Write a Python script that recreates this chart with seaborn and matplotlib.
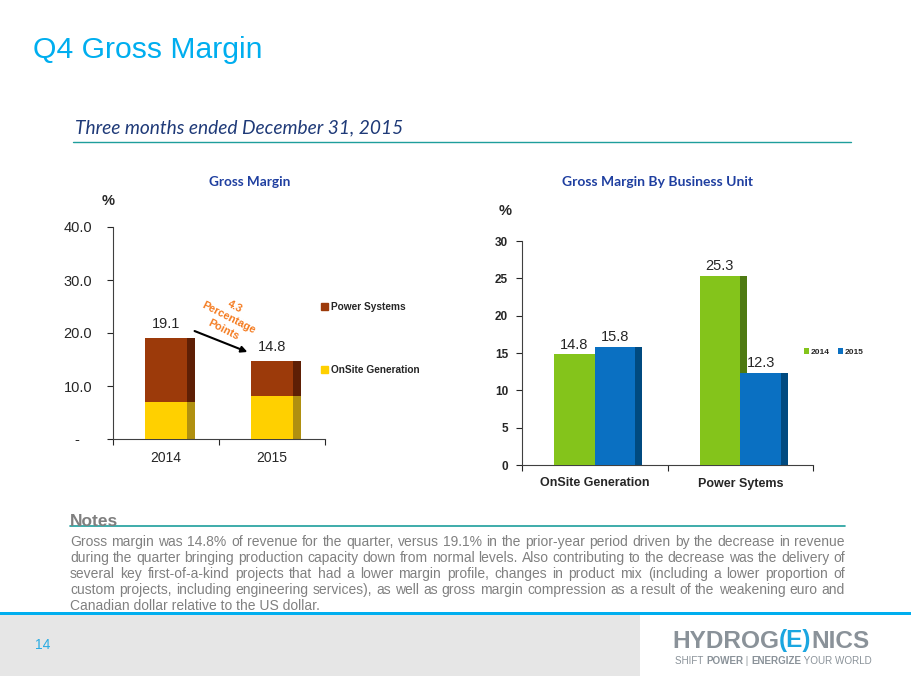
import matplotlib
matplotlib.use('Agg')
import matplotlib.pyplot as plt
from matplotlib.patches import Rectangle, Patch
from matplotlib.lines import Line2D
import seaborn as sns
import pandas as pd

# data
years = ['2014', '2015']
onsite_margin = [7.0, 8.2]
total_margin = [19.1, 14.8]   # onsite + power systems, stacked
left_yticks = [0, 10, 20, 30, 40]
left_ylabels = ['-   ', '10.0', '20.0', '30.0', '40.0']

units = ['OnSite Generation', 'Power Sytems']
unit_2014 = [14.8, 25.3]
unit_2015 = [15.8, 12.3]
right_yticks = [0, 5, 10, 15, 20, 25, 30]

notes_lines = [
    "Gross margin was 14.8% of revenue for the quarter, versus 19.1% in the prior-year period driven by the decrease in revenue",
    "during the quarter bringing production capacity down from normal levels. Also contributing to the decrease was the delivery of",
    "several key first-of-a-kind projects that had a lower margin profile, changes in product mix (including a lower proportion of",
    "custom projects, including engineering services), as well as gross margin compression as a result of the weakening euro and",
    "Canadian dollar relative to the US dollar.",
]

sns.set_style('white')
plt.rcParams['font.family'] = ['Liberation Sans', 'DejaVu Sans']

W, H = 911, 676
fig = plt.figure(figsize=(W / 100, H / 100), dpi=100)
fig.patch.set_facecolor('white')
renderer = fig.canvas.get_renderer()


def box(x0, y0, x1, y1):
    return [x0 / W, 1 - y1 / H, (x1 - x0) / W, (y1 - y0) / H]


def ftext(x, y, s, **kw):
    return fig.text(x / W, 1 - y / H, s, **kw)


def width_of(t):
    return t.get_window_extent(renderer).width


def hline(x0, x1, y, color, lw):
    fig.add_artist(Line2D([x0 / W, x1 / W], [1 - y / H, 1 - y / H], color=color, lw=lw,
                          transform=fig.transFigure))


def add_sides(ax, container, depth, color, z):
    # fake 3D side face on the right of each bar
    for p in container:
        ax.add_patch(Rectangle((p.get_x() + p.get_width(), 0), depth, p.get_height(),
                               color=color, lw=0, zorder=z))


# ---- header
ftext(33, 50, 'Q4 Gross Margin', fontsize=21.7, color='#00AEEF', va='center')
ftext(75, 128, 'Three months ended December 31, 2015', fontsize=13.8, family=['Lato', 'DejaVu Sans'],
      style='italic', color='#1F3A78', va='center')
hline(73, 851, 142, '#1E9E9C', 1.0)

# ---- left chart: stacked gross margin
ax1 = fig.add_axes(box(113, 227, 325, 439))
df1 = pd.DataFrame({'year': years, 'total': total_margin, 'onsite': onsite_margin})
sns.barplot(data=df1, x='year', y='total', color='#9C3A0A', width=0.40, saturation=1,
            linewidth=0, ax=ax1, zorder=3)
sns.barplot(data=df1, x='year', y='onsite', color='#FFD000', width=0.40, saturation=1,
            linewidth=0, ax=ax1, zorder=4)
add_sides(ax1, ax1.containers[0], 0.075, '#5E1F05', 2)
add_sides(ax1, ax1.containers[1], 0.075, '#B09010', 2.5)
ax1.bar_label(ax1.containers[0], labels=[f'{v:.1f}' for v in total_margin], padding=5, fontsize=10.5)
ax1.set_xlim(-0.5, 1.5)
ax1.set_ylim(0, 40)
ax1.set_yticks(left_yticks, left_ylabels)
ax1.set_xticks([-0.5, 0.5, 1.5], minor=True)
ax1.set_xlabel('')
ax1.set_ylabel('')
ax1.tick_params(axis='y', left=True, length=4, width=0.8, labelsize=10.5, pad=11)
ax1.tick_params(axis='x', which='major', length=0, labelsize=10, pad=9)
ax1.tick_params(axis='x', which='minor', bottom=True, length=4, width=0.8)
for s in ['top', 'right']:
    ax1.spines[s].set_visible(False)
for s in ['left', 'bottom']:
    ax1.spines[s].set_color('#404040')
    ax1.spines[s].set_linewidth(0.8)
ax1.legend(handles=[Patch(color='#9C3A0A'), Patch(color='#FFD000')],
           labels=['Power Systems', 'OnSite Generation'], loc='center left',
           bbox_to_anchor=(321 / W, 1 - 338.5 / H), bbox_transform=fig.transFigure,
           frameon=False, prop={'size': 7.3, 'weight': 'bold'}, handlelength=0.7,
           handleheight=0.7, handletextpad=0.25, labelspacing=5.2, borderpad=0, borderaxespad=0)
# drop annotation: arrow from the 2014 label toward the 2015 bar
ax1.annotate('', xy=(250, H - 353), xycoords='figure pixels', xytext=(192, H - 330),
             textcoords='figure pixels',
             arrowprops=dict(arrowstyle='-|>', color='black', lw=1.5, mutation_scale=9))
ftext(229, 318, '4.3\nPercentage\nPoints', rotation=-27, ha='center', va='center',
      color='#F47B20', fontsize=7.8, fontweight='bold', linespacing=1.35)
ftext(250, 182, 'Gross Margin', ha='center', va='center', fontsize=9.8, fontweight='bold',
      family=['Lato', 'DejaVu Sans'], color='#1F3FA0')
ftext(108, 201, '%', ha='center', va='center', fontsize=10.5, fontweight='bold')

# ---- right chart: by business unit
ax2 = fig.add_axes(box(522, 241, 813, 465))
df2 = pd.DataFrame({'unit': units * 2, 'year': ['2014'] * 2 + ['2015'] * 2,
                    'value': unit_2014 + unit_2015})
sns.barplot(data=df2, x='unit', y='value', hue='year', palette=['#84C41B', '#0A70C2'],
            width=0.56, saturation=1, linewidth=0, ax=ax2, zorder=3)
add_sides(ax2, ax2.containers[0], 0.048, '#4E7A12', 2)
add_sides(ax2, ax2.containers[1], 0.048, '#004A80', 2)
for c in ax2.containers:
    ax2.bar_label(c, fmt='%.1f', padding=2, fontsize=10.5)
ax2.set_xlim(-0.5, 1.5)
ax2.set_ylim(0, 30)
ax2.set_yticks(right_yticks)
ax2.set_xticks([-0.5, 0.5, 1.5], minor=True)
ax2.set_xlabel('')
ax2.set_ylabel('')
ax2.tick_params(axis='y', left=True, length=4, width=0.8, labelsize=8.5, pad=6)
ax2.tick_params(axis='x', which='major', length=0, labelsize=9, pad=9)
ax2.tick_params(axis='x', which='minor', bottom=True, length=4, width=0.8)
for lab in ax2.get_xticklabels() + ax2.get_yticklabels():
    lab.set_fontweight('bold')
for s in ['top', 'right']:
    ax2.spines[s].set_visible(False)
for s in ['left', 'bottom']:
    ax2.spines[s].set_color('#404040')
    ax2.spines[s].set_linewidth(0.8)
sns.move_legend(ax2, 'center left', bbox_to_anchor=(804 / W, 1 - 352 / H),
                bbox_transform=fig.transFigure, ncol=2, frameon=False, title=None,
                prop={'size': 6, 'weight': 'bold'}, handlelength=0.6, handleheight=0.6,
                handletextpad=0.25, columnspacing=0.9, borderpad=0, borderaxespad=0)
ftext(657, 182, 'Gross Margin By Business Unit', ha='center', va='center', fontsize=10,
      fontweight='bold', family=['Lato', 'DejaVu Sans'], color='#1F3FA0')
ftext(505, 211, '%', ha='center', va='center', fontsize=10.5, fontweight='bold')

# ---- notes
narrow = ['Liberation Sans Narrow', 'Liberation Sans', 'DejaVu Sans']
ftext(70, 526, 'Notes', family=narrow, fontsize=12.5, fontweight='bold', color='#7F7F7F', va='baseline')
hline(70, 845, 526, '#1E9E9C', 1.2)

# pick a size so the first line nearly fills the column with normal word gaps
probe = ftext(0, 0, notes_lines[0], family=narrow, fontsize=10)
notes_size = 10 * 765 / width_of(probe)
probe.remove()

line_y = [542, 558, 574, 590, 606]
for i, (line, y) in enumerate(zip(notes_lines, line_y)):
    kw = dict(family=narrow, fontsize=notes_size, color='#808080', va='center')
    if i == len(notes_lines) - 1:
        ftext(70, y, line, **kw)
        continue
    words = line.split()
    texts = [ftext(0, y, w, **kw) for w in words]
    widths = [width_of(t) for t in texts]
    gap = (845 - 70 - sum(widths)) / (len(words) - 1)
    x = 70
    for t, w in zip(texts, widths):
        t.set_position((x / W, 1 - y / H))
        x += w + gap

# ---- footer
fig.add_artist(Rectangle((0, 0), 640 / W, (H - 615) / H, transform=fig.transFigure,
                         color='#E6E6E6', lw=0, zorder=4))
fig.add_artist(Rectangle((0, 1 - 615 / H), 1, 3 / H, transform=fig.transFigure,
                         color='#00AEEF', lw=0, zorder=5))
ftext(35, 645, '14', fontsize=10, color='#29ABE2', va='center', zorder=6)

x = 672
for piece, col in [('HYDROG', '#8A9299'), ('(E)', '#1BA6E0'), ('NICS', '#8A9299')]:
    t = ftext(x, 641, piece, fontsize=17.6, fontweight='bold', color=col, va='center', zorder=6)
    x += width_of(t)
x = 675
for piece, wt in [('SHIFT ', 'normal'), ('POWER', 'bold'), (' | ', 'normal'),
                  ('ENERGIZE', 'bold'), (' YOUR WORLD', 'normal')]:
    t = ftext(x, 661, piece, fontsize=7.1, fontweight=wt, color='#8A9299', va='center', zorder=6)
    x += width_of(t)

fig.savefig('out.png', dpi=100)
